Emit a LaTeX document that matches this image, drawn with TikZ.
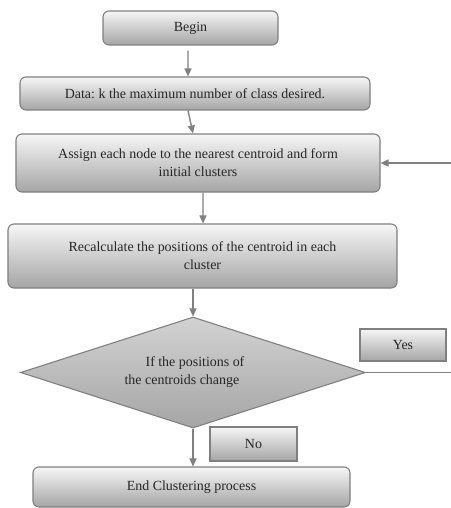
\documentclass[tikz,border=0pt]{standalone}
\usepackage{fontspec}
\setmainfont{Liberation Serif}
\frenchspacing
\usetikzlibrary{arrows.meta,positioning,calc,shapes.geometric}
\definecolor{ln}{RGB}{128,128,128}
\definecolor{tp}{RGB}{246,246,246}
\definecolor{bt}{RGB}{165,165,165}
\tikzset{p/.style={draw=ln,line width=1.1pt,top color=tp,bottom color=bt,rounded corners=6pt,align=center,inner sep=0pt},
 sq/.style={p,rounded corners=0pt},
 dec/.style={draw=ln,line width=1.1pt,diamond,aspect=3,top color=gray!35,bottom color=bt,align=left,inner sep=0pt},
 arr/.style={-{Triangle[length=8bp,width=7bp]},draw=ln,line width=1.4pt},
 wire/.style={draw=ln,line width=1.4pt},
 every node/.style={font=\fontsize{14}{18}\selectfont,text=black!85}}
\begin{document}
\begin{tikzpicture}[x=1bp,y=1bp]
\useasboundingbox (0,0) rectangle (451,-508);
\node[p,minimum width=175bp,minimum height=34bp] (beg) at (190.5,-28) {Begin};
\node[p,minimum width=350bp,minimum height=33bp] (data) at (195,-93.5) {Data: k the maximum number of class desired.};
\node[p,minimum width=364bp,minimum height=58bp] (asg) at (198,-163) {Assign each node to the nearest centroid and form\\initial clusters};
\node[p,minimum width=389bp,minimum height=64bp] (rec) at (202.5,-256) {Recalculate the positions of the centroid in each\\cluster};
\node[dec,minimum width=345bp,minimum height=111bp] (chg) at (193,-372.5) {\hspace*{21bp}If the positions of\hspace*{17bp}\\the centroids change};
\node[sq,minimum width=86bp,minimum height=32bp] (yes) at (403,-345) {Yes};
\node[sq,minimum width=87bp,minimum height=34bp] (no) at (253.5,-444) {No};
\node[p,minimum width=317bp,minimum height=40bp] (fin) at (191.5,-487) {End Clustering process};
\coordinate (fb) at (451,-163);\coordinate (fy) at (451,-372.5);
\draw[arr,shorten <=5bp] ([xshift=-2.5bp]beg.south) -- ([xshift=-7bp]data.north);
\draw[arr] ([xshift=-7bp]data.south) -- ([xshift=-5bp]asg.north);
\draw[arr] ([xshift=5bp]asg.south) -- ([xshift=0.5bp]rec.north);
\draw[arr] (chg.north |- rec.south) -- (chg.north);
\draw[arr] (chg.south) -- (chg.south |- fin.north);
\draw[arr] (fb) -- (asg.east);
\draw[wire] (chg.east) -- (fy);
\end{tikzpicture}
\end{document}
